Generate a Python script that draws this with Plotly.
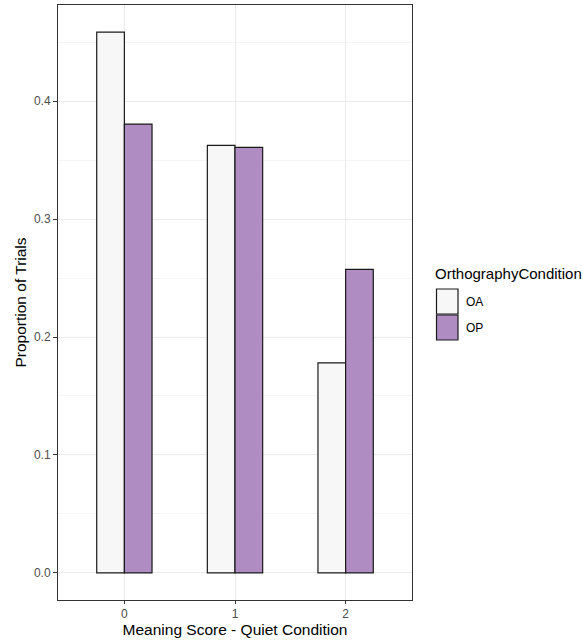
import plotly.graph_objects as go

categories = ["0", "1", "2"]
oa_values = [0.4585, 0.3624, 0.1780]
op_values = [0.3805, 0.3607, 0.2573]
series_names = ["OA", "OP"]
series_colors = ["#F7F7F7", "#AF8DC3"]
y_ticks = [0.0, 0.1, 0.2, 0.3, 0.4]
y_tick_labels = ["0.0", "0.1", "0.2", "0.3", "0.4"]
legend_title = "OrthographyCondition"

W, H = 583, 642
L, R, T, B = 58, 171, 5, 42
pw, ph = W - L - R, H - T - B

def px_x(p):
    return (p - L) / pw

def px_y(p):
    return (H - B - p) / ph

fig = go.Figure()
for name, vals, col in zip(series_names, [oa_values, op_values], series_colors):
    fig.add_trace(go.Bar(x=categories, y=vals, name=name, showlegend=False,
                         marker=dict(color=col, line=dict(color="#1a1a1a", width=1.2))))

# manual ggplot-style legend
shapes = []
annotations = [dict(text=legend_title, xref="paper", yref="paper", x=px_x(433), y=px_y(273),
                    xanchor="left", yanchor="middle", showarrow=False,
                    font=dict(size=15, color="#000000"))]
key_tops = [289, 315]
for name, col, top in zip(series_names, series_colors, key_tops):
    shapes.append(dict(type="rect", xref="paper", yref="paper",
                       x0=px_x(436.5), x1=px_x(458), y0=px_y(top), y1=px_y(top + 25),
                       fillcolor=col, line=dict(color="#1a1a1a", width=1.2)))
    annotations.append(dict(text=name, xref="paper", yref="paper", x=px_x(464), y=px_y(top + 12.5),
                            xanchor="left", yanchor="middle", showarrow=False,
                            font=dict(size=12, color="#000000")))

ymax = max(oa_values + op_values)
fig.update_layout(
    width=W, height=H,
    margin=dict(l=L, r=R, t=T, b=B, autoexpand=False),
    paper_bgcolor="white", plot_bgcolor="white",
    barmode="group", bargap=0.5, bargroupgap=0,
    showlegend=False,
    font=dict(family="Liberation Sans, Arial, sans-serif", color="#000000"),
    shapes=shapes, annotations=annotations,
    xaxis=dict(
        type="category", range=[-0.6, 2.6], automargin=False,
        showline=True, linecolor="#333333", linewidth=1, mirror=True,
        showgrid=True, gridcolor="#EBEBEB", gridwidth=1,
        ticks="outside", ticklen=3, tickcolor="#333333",
        tickfont=dict(size=12, color="#4D4D4D"),
        title=dict(text="Meaning Score - Quiet Condition", font=dict(size=15.5), standoff=2),
    ),
    yaxis=dict(
        range=[-ymax * 0.05, ymax * 1.05], automargin=False,
        tickvals=y_ticks, ticktext=y_tick_labels,
        showline=True, linecolor="#333333", linewidth=1, mirror=True,
        showgrid=True, gridcolor="#EBEBEB", gridwidth=1,
        minor=dict(dtick=0.05, tick0=0.05, showgrid=True, gridcolor="#F5F5F5", gridwidth=0.6, ticks=""),
        zeroline=False,
        ticks="outside", ticklen=4, tickcolor="#333333",
        tickfont=dict(size=12, color="#4D4D4D"),
        title=dict(text="Proportion of Trials", font=dict(size=15.5), standoff=3),
    ),
)

fig.write_html("out.html", config={"displayModeBar": False},
               post_script="document.body.style.margin='0';document.body.style.padding='0';")
